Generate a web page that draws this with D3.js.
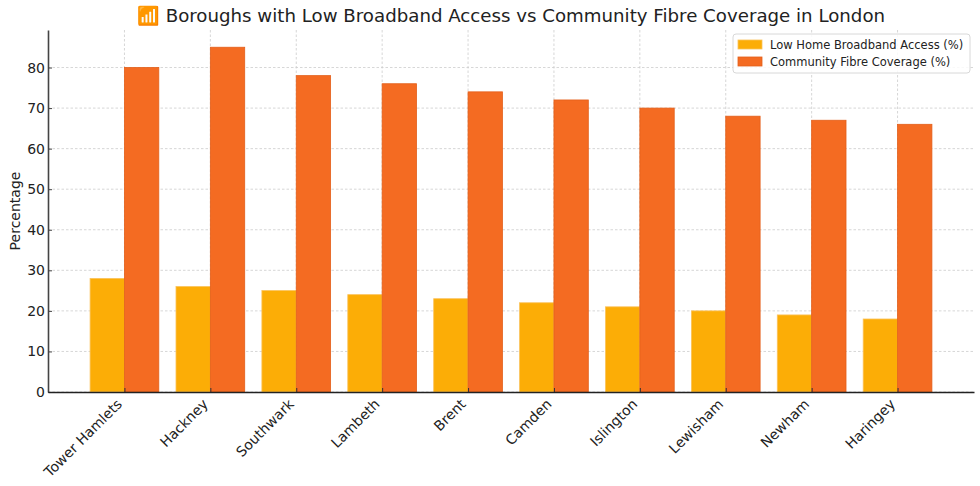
<!DOCTYPE html>
<html>
<head>
<meta charset="utf-8">
<script src="https://cdn.jsdelivr.net/npm/d3@7"></script>
<style>
  body { margin: 0; background: #fff; }
  svg { display: block; font-family: "DejaVu Sans", sans-serif; }
</style>
</head>
<body>
<div id="chart"></div>
<script>
// chart data
var boroughs = ["Tower Hamlets", "Hackney", "Southwark", "Lambeth", "Brent",
                "Camden", "Islington", "Lewisham", "Newham", "Haringey"];
var lowAccess = [28, 26, 25, 24, 23, 22, 21, 20, 19, 18];
var fibreCoverage = [80, 85, 78, 76, 74, 72, 70, 68, 67, 66];
var seriesNames = ["Low Home Broadband Access (%)", "Community Fibre Coverage (%)"];
var yTicks = [0, 10, 20, 30, 40, 50, 60, 70, 80];

var width = 980, height = 486;
var margin = {top: 30, right: 6, bottom: 94, left: 48};
var colors = ["#fcad06", "#f46b22"];
var edges = ["#fbc25a", "#e35f1a"];

var svg = d3.select("#chart")
  .append("svg")
  .attr("width", width)
  .attr("height", height);

var plotW = width - margin.left - margin.right;
var plotH = height - margin.top - margin.bottom;

var g = svg.append("g")
  .attr("transform", "translate(" + margin.left + "," + margin.top + ")");

// index axis with a little padding each side, like matplotlib
var x = d3.scaleLinear()
  .domain([-0.89, boroughs.length - 1 + 0.89])
  .range([0, plotW]);

var y = d3.scaleLinear()
  .domain([0, d3.max(fibreCoverage) * 1.05])
  .range([plotH, 0]);

var barW = 0.4;

// grid
g.selectAll(".hgrid")
  .data(yTicks)
  .enter()
  .append("line")
  .attr("x1", 0)
  .attr("x2", plotW)
  .attr("y1", function(d) { return y(d); })
  .attr("y2", function(d) { return y(d); })
  .attr("stroke", "#cccccc")
  .attr("stroke-width", 0.8)
  .attr("stroke-dasharray", "2.5,2");

g.selectAll(".vgrid")
  .data(boroughs)
  .enter()
  .append("line")
  .attr("x1", function(d, i) { return x(i); })
  .attr("x2", function(d, i) { return x(i); })
  .attr("y1", 0)
  .attr("y2", plotH)
  .attr("stroke", "#cccccc")
  .attr("stroke-width", 0.8)
  .attr("stroke-dasharray", "2.5,2");

// bars
var series = [lowAccess, fibreCoverage];
series.forEach(function(vals, s) {
  g.selectAll(".bar" + s)
    .data(vals)
    .enter()
    .append("rect")
    .attr("x", function(d, i) { return x(i - barW + s * barW); })
    .attr("y", function(d) { return y(d); })
    .attr("width", x(barW) - x(0))
    .attr("height", function(d) { return plotH - y(d); })
    .attr("fill", colors[s])
    .attr("stroke", edges[s])
    .attr("stroke-width", 0.8);
});

// axes
var yAxis = d3.axisLeft(y).tickValues(yTicks).tickSizeInner(-4).tickSizeOuter(0).tickPadding(3);
var yg = g.append("g").call(yAxis);
yg.select(".domain").attr("stroke", "#444").attr("stroke-width", 1.6);
yg.selectAll(".tick line").attr("stroke", "#444");
yg.selectAll(".tick text").attr("font-size", "14px").attr("fill", "#222")
  .attr("font-family", "DejaVu Sans, sans-serif");

var xAxis = d3.axisBottom(x)
  .tickValues(d3.range(boroughs.length))
  .tickFormat(function(i) { return boroughs[i]; })
  .tickSizeInner(-4).tickSizeOuter(0);
var xg = g.append("g")
  .attr("transform", "translate(0," + plotH + ")")
  .call(xAxis);
xg.select(".domain").attr("stroke", "#222").attr("stroke-width", 1.4);
xg.selectAll(".tick line").attr("stroke", "#333");
xg.selectAll(".tick text")
  .attr("font-size", "14px")
  .attr("fill", "#222")
  .attr("font-family", "DejaVu Sans, sans-serif")
  .attr("text-anchor", "end")
  .attr("x", 0)
  .attr("y", 0)
  .attr("dy", 0)
  .attr("transform", "translate(-2,13) rotate(-45)");

// y label
svg.append("text")
  .attr("transform", "translate(20," + (margin.top + plotH / 2) + ") rotate(-90)")
  .attr("text-anchor", "middle")
  .attr("font-size", "14px")
  .attr("fill", "#222")
  .text("Percentage");

// title
svg.append("text")
  .attr("x", margin.left + plotW / 2)
  .attr("y", 22)
  .attr("text-anchor", "middle")
  .attr("font-size", "18.2px")
  .attr("fill", "#222")
  .text("\u{1F4F6} Boroughs with Low Broadband Access vs Community Fibre Coverage in London");

// legend
var lg = svg.append("g").attr("transform", "translate(733,34)");
lg.append("rect")
  .attr("width", 237).attr("height", 39)
  .attr("rx", 3)
  .attr("fill", "#fff").attr("fill-opacity", 0.85)
  .attr("stroke", "#d8d8d8");
seriesNames.forEach(function(name, i) {
  lg.append("rect")
    .attr("x", 5).attr("y", 6 + i * 17)
    .attr("width", 24).attr("height", 9)
    .attr("fill", colors[i]).attr("stroke", edges[i]).attr("stroke-width", 0.8);
  lg.append("text")
    .attr("x", 37).attr("y", 15 + i * 17)
    .attr("font-size", "11.5px")
    .attr("fill", "#222")
    .text(name);
});
</script>
</body>
</html>
